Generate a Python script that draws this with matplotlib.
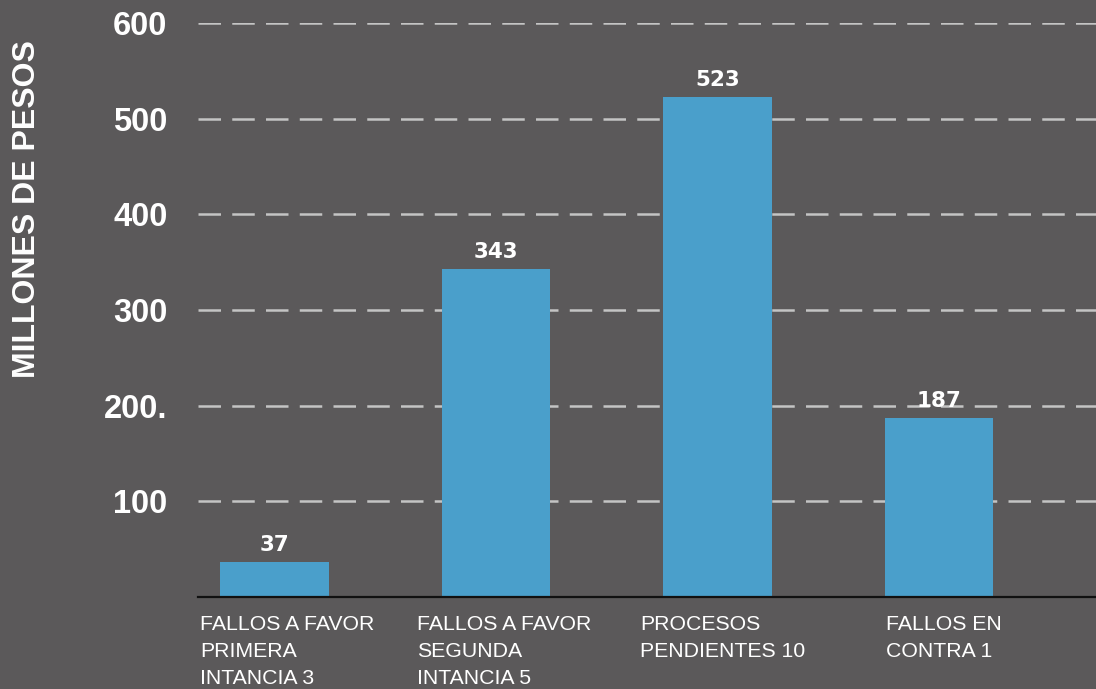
import matplotlib
matplotlib.use("Agg")
import matplotlib.pyplot as plt
from matplotlib.transforms import blended_transform_factory

categories = ["FALLOS A FAVOR\nPRIMERA\nINTANCIA 3",
              "FALLOS A FAVOR\nSEGUNDA\nINTANCIA 5",
              "PROCESOS\nPENDIENTES 10",
              "FALLOS EN\nCONTRA 1"]
values = [37, 343, 523, 187]
value_labels = ["37", "343", "523", "187"]
yticks = [100, 200, 300, 400, 500, 600]
ytick_labels = ["100", "200.", "300", "400", "500", "600"]
label_offsets = [-0.336, -0.357, -0.350, -0.239]

bg = "#5b595a"
bar_color = "#4a9fcb"

fig = plt.figure(figsize=(10.96, 6.89), dpi=100, facecolor=bg)
ax = fig.add_axes([198/1096, 1 - 597/689, (1096-198)/1096, (597-23)/689])
ax.set_facecolor(bg)

x = list(range(len(categories)))
ax.bar(x, values, width=0.49, color=bar_color, zorder=3)
ax.set_xlim(-0.345, 3.709)
ax.set_ylim(0, 600)

for yv in yticks:
    ax.axhline(yv, color="#c4c4c4", lw=1.8, dashes=(9, 4.5), zorder=1)
ax.axhline(0, color="#111111", lw=1.6, zorder=4, clip_on=False)

ax.set_yticks(yticks)
ax.set_yticklabels(ytick_labels, fontsize=23.5, fontweight="bold", color="white",
                   family="Liberation Sans")
ax.tick_params(axis="y", length=0, pad=22)
ax.set_xticks([])
for s in ax.spines.values():
    s.set_visible(False)

for xi, v, lab in zip(x, values, value_labels):
    ax.annotate(lab, (xi, v), xytext=(0, 5), textcoords="offset points",
                ha="center", va="bottom", fontsize=15.5, fontweight="bold",
                color="white", family="DejaVu Sans", zorder=5)

trans = blended_transform_factory(ax.transData, ax.transAxes)
for xi, cat, off in zip(x, categories, label_offsets):
    ax.text(xi + off, -0.031, cat, transform=trans, ha="left", va="top",
            fontsize=15.3, color="white", family="Liberation Sans",
            linespacing=1.55)

fig.text(27/1096, 1 - 209/689, "MILLONES DE PESOS", rotation=90, ha="center",
         va="center", fontsize=23, fontweight="bold", color="white",
         family="Liberation Sans")

fig.savefig("out.png", dpi=100, facecolor=bg)
